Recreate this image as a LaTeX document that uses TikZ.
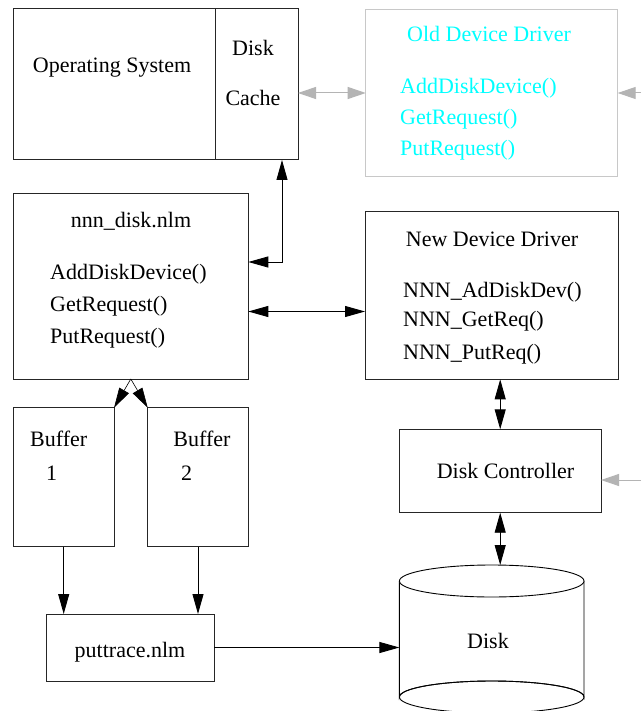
\documentclass[tikz,border=0pt]{standalone}
\usepackage{fontspec}
\setmainfont{Liberation Serif}
\newfontfamily\timesf{Liberation Serif}
\usetikzlibrary{arrows.meta}
\definecolor{lgray}{RGB}{180,180,180}
\definecolor{bgray}{RGB}{200,200,200}
\definecolor{tcyan}{RGB}{0,255,255}
\begin{document}
\begin{tikzpicture}[x=1pt,y=-1pt,
  box/.style={draw=black!85, line width=1pt, inner sep=0pt, outer sep=0pt, fill=white},
  oldbox/.style={draw=bgray, line width=1pt, inner sep=0pt, outer sep=0pt},
  txt/.style={inner sep=0pt, anchor=base, font=\timesf\fontsize{22}{26}\selectfont},
  ltxt/.style={inner sep=0pt, anchor=base west, font=\timesf\fontsize{22}{26}\selectfont},
  conn/.style={line width=0.9pt, draw=black, -{Triangle[length=20pt,width=11pt]}},
  dconn/.style={line width=0.9pt, draw=black, {Triangle[length=20pt,width=11pt]}-{Triangle[length=20pt,width=11pt]}},
  gconn/.style={line width=1pt, draw=lgray, -{Triangle[length=18pt,width=12pt]}},
  gdconn/.style={line width=1pt, draw=lgray, {Triangle[length=18pt,width=12pt]}-{Triangle[length=18pt,width=12pt]}}
]
\fill[white] (0,0) rectangle (641,711);
\useasboundingbox (0,0) rectangle (641,711);

% Operating system and disk cache
\node[box, minimum width=202, minimum height=151] (os) at (114,84.5) {};
\node[box, minimum width=83, minimum height=151] (cache) at (256.5,84.5) {};
\node[txt] (ostxt) at (112,73) {Operating System};
\node[txt] (disktxt) at (253,56) {Disk};
\node[txt] (cachetxt) at (253,106) {Cache};

% Old device driver
\node[oldbox, minimum width=252, minimum height=167.4] (old) at (491.7,93) {};
\node[txt, text=tcyan] (oldt) at (489,42) {Old Device Driver};
\node[ltxt, text=tcyan] (old1) at (400,94) {AddDiskDevice()};
\node[ltxt, text=tcyan] (old2) at (400,125) {GetRequest()};
\node[ltxt, text=tcyan] (old3) at (400,156) {PutRequest()};

% nnn_disk.nlm
\node[box, minimum width=235, minimum height=185] (nnn) at (130.8,286.5) {};
\node[txt] (nnnt) at (131,228) {nnn\_disk.nlm};
\node[ltxt] (nnn1) at (50,279) {AddDiskDevice()};
\node[ltxt] (nnn2) at (50,311) {GetRequest()};
\node[ltxt] (nnn3) at (50,343) {PutRequest()};

% New device driver
\node[box, minimum width=253, minimum height=168.3] (ndd) at (491.5,295.2) {};
\node[txt] (nddt) at (492,246) {New Device Driver};
\node[ltxt] (ndd1) at (403,297) {NNN\_AdDiskDev()};
\node[ltxt] (ndd2) at (403,326) {NNN\_GetReq()};
\node[ltxt] (ndd3) at (403,359) {NNN\_PutReq()};

% Disk controller
\node[box, minimum width=201.7, minimum height=83.4] (dc) at (500.2,471) {};
\node[txt] (dct) at (505.5,478) {Disk Controller};

% Buffers
\node[box, minimum width=100.7, minimum height=139] (b1) at (63.7,477.2) {};
\node[txt] (b1t) at (58.7,446) {Buffer};
\node[txt] (b1n) at (51.7,480) {1};
\node[box, minimum width=100.6, minimum height=139] (b2) at (198,477.2) {};
\node[txt] (b2t) at (202,446) {Buffer};
\node[txt] (b2n) at (186.7,480) {2};

% puttrace.nlm
\node[box, minimum width=168.3, minimum height=67] (pt) at (130.2,647.5) {};
\node[txt] (ptt) at (130,657) {puttrace.nlm};

% Disk cylinder
\node[inner sep=0pt, outer sep=0pt, minimum width=184.6, minimum height=132] (disk) at (491.7,631) {};
\draw[line width=0.9pt, fill=white] (399.4,581) -- (399.4,697) arc[start angle=180, end angle=360, x radius=92.3, y radius=16] -- (584,581);
\draw[line width=0.9pt] (491.7,697) ellipse [x radius=92.3, y radius=16];
\draw[line width=0.9pt, fill=white] (491.7,581) ellipse [x radius=92.3, y radius=16];
\node[txt] (diskt) at (488,648) {Disk};

% Connectors
\draw[dconn] ([yshift=24.5pt]nnn.east) -| ([xshift=25.5pt]cache.south);
\coordinate (p) at ([yshift=-25pt]nnn.east);
\draw[dconn] (p) -- (ndd.west |- p);
\draw[dconn] (dc.north |- ndd.south) -- (dc.north);
\draw[dconn] (dc.south) -- (dc.south |- disk.north);
\draw[conn] (pt.east) -- (disk.west |- pt.east);
\draw[conn] (b1.south) -- (b1.south |- pt.north);
\draw[conn] (b2.south) -- (b2.south |- pt.north);
\draw[conn, line width=0.6pt] (nnn.south) -- (b1.north east);
\draw[conn, line width=0.6pt] (nnn.south) -- (b2.north west);

% Gray connectors
\draw[gdconn] (cache.east |- old.west) -- (old.west);
\coordinate (r1) at (641,93);
\draw[gconn] (r1) -- (old.east);
\coordinate (r2) at (641,480);
\draw[gconn] (r2) -- (dc.east |- r2);
\end{tikzpicture}
\end{document}
